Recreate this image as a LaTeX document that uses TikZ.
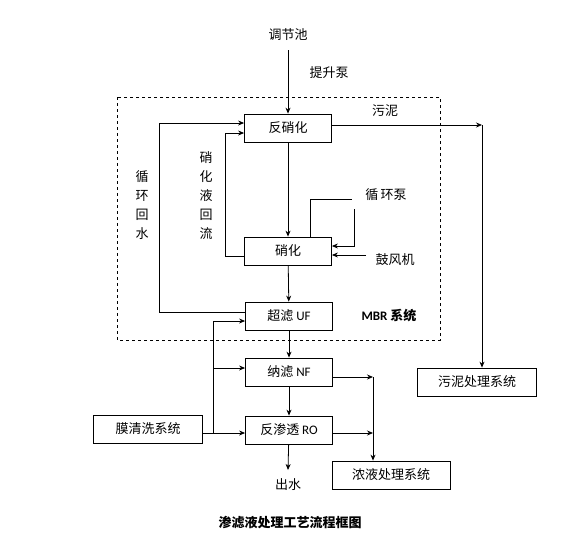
\documentclass[tikz,border=0pt]{standalone}
\usepackage{fontspec}
\setmainfont{Carlito}
\newfontfamily\cjk{Noto Sans CJK SC}
\newfontfamily\lat{Carlito}
\usetikzlibrary{positioning,arrows.meta}

\begin{document}
\begin{tikzpicture}[
    x=1pt, y=-1pt,
    line width=0.8pt,
    font=\fontsize{13}{19}\selectfont\cjk,
    proc/.style={rectangle,draw,minimum width=87pt,minimum height=28pt,inner sep=0pt},
    sysbox/.style={proc,minimum width=118pt},
    label/.style={inner sep=0pt,align=center},
    arrow/.style={->},
    >={Stealth[length=6pt,width=5pt]}
]
\useasboundingbox (0,0) rectangle (578,544);

% MBR 虚线框
\draw[dashed] (117,97) rectangle (440,340);

% 主流程 (x=288)
\node[label] (tank) at (288,35) {调节池};
\node[label] (pump) at (329,73) {提升泵};
\node[proc] (denit) at (288,128) {反硝化};
\node[proc] (nit) at (288,251) {硝化};
\node[proc] (uf) at (289,316) {超滤 {\lat UF}};
\node[proc] (nf) at (289,372) {纳滤 {\lat NF}};
\node[proc] (ro) at (289,430) {反渗透 {\lat RO}};
\node[label] (outw) at (288,485) {出水};

% 两侧系统
\node[proc,minimum width=109pt] (clean) at (148,429) {膜清洗系统};
\node[sysbox,minimum width=119pt] (sludge) at (477,382) {污泥处理系统};
\node[sysbox] (conc) at (391,475) {浓液处理系统};

% 其它文字
\node[label] (sludgetxt) at (385,111) {污泥};
\node[label] (cpump) at (386,195) {循\,环泵};
\node[label] (blower) at (395,260) {鼓风机};
\node[label] (nitret) at (206,196) {硝\\化\\液\\回\\流};
\node[label] (backw) at (142,205) {循\\环\\回\\水};
\node[label,font=\fontsize{13}{19}\selectfont\cjk\bfseries] (mbr) at (389,316) {{\lat\bfseries MBR} 系统};
\node[label,font=\fontsize{13}{19}\selectfont\cjk\bfseries] (title) at (290,523) {渗滤液处理工艺流程框图};

% 主干连线
\coordinate (tankbot) at (288,50);
\draw[arrow] (tankbot) -- (denit);
\draw[arrow] (denit) -- (nit);
\draw[arrow] (nit) -- (uf);
\draw[arrow] (uf) -- (nf);
\draw[arrow] (nf) -- (ro);
\coordinate (outtop) at (288,470);
\draw[arrow] (ro) -- (outtop);

% 污泥去向
\coordinate (sludgeturn) at (482,125);
\draw[arrow] (denit.east |- sludgeturn) -- (sludgeturn);
\draw[arrow] (sludgeturn) -- (sludgeturn |- sludge.north);

% 循环回水、硝化液回流
\draw[arrow] (uf.west |- 0,312) -- (159,312) |- (denit.west |- 0,123);
\draw[arrow] (nit.west |- 0,256) -- (225,256) |- (denit.west |- 0,133);

% 循环泵、鼓风机
\coordinate (cpumpl) at (352,199);
\coordinate (cpumpr) at (354,209);
\draw (nit.north -| 310,0) |- (cpumpl);
\draw[arrow] (cpumpr) |- (nit.east |- 0,246);
\coordinate (blowerl) at (366,255);
\draw[arrow] (blowerl) -- (nit.east |- blowerl);

% 膜清洗系统
\coordinate (cleanbus) at (213,433);
\draw[arrow] (clean.east |- cleanbus) -- (ro.west |- cleanbus);
\draw[arrow] (cleanbus) |- (uf.west |- 0,321);
\draw[arrow] (cleanbus |- 0,368) -- (nf.west |- 0,368);

% 浓液汇流
\coordinate (concbus) at (373,377);
\draw[arrow] (nf.east |- concbus) -- (concbus);
\draw[arrow] (ro.east |- 0,433) -- (concbus |- 0,433);
\draw[arrow] (concbus) -- (concbus |- conc.north);

\end{tikzpicture}
\end{document}
